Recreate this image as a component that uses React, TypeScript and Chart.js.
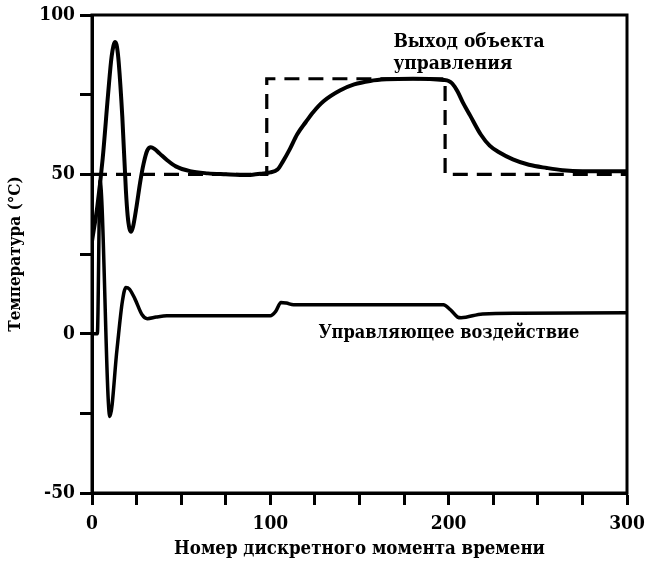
import React, { useEffect, useRef } from "react";
import { Chart, registerables } from "chart.js";

Chart.register(...registerables);

// ---- Data ----
const setpointT = [0, 98, 98, 198, 198, 300];
const setpointV = [50, 50, 80, 80, 50, 50];

const outputT = [0, 3, 6, 9, 11, 13, 14, 15, 17, 19, 20, 21, 22, 23, 25, 27, 29, 31, 33, 35, 38, 42, 47, 55, 65, 75, 83, 90, 96, 100, 104, 107, 111, 115, 120, 124, 130, 139, 147, 156, 165, 180, 197, 200, 202, 205, 208, 212, 218, 223, 228, 236, 245, 255, 264, 275, 300];
const outputV = [29, 40, 55, 75, 87, 91.5, 90, 85, 68, 45, 37, 33, 32, 33.5, 40, 47.5, 53.5, 57.5, 58.5, 58, 56.5, 54.5, 52.5, 51, 50.3, 50, 49.8, 49.9, 50.3, 50.6, 51.5, 54, 58, 62.5, 66.5, 69.5, 73, 76.3, 78.2, 79.3, 79.8, 80, 79.6, 79.3, 78.5, 76, 72.5, 68.5, 62.5, 59, 57, 54.7, 53, 52, 51.3, 51, 51];

const controlT = [0, 3, 4.5, 10, 14, 17, 19, 21, 24, 28, 31, 36, 42, 60, 100, 103, 106, 109, 113, 150, 197, 201, 205, 207, 219, 240, 300];
const controlV = [0, 0, 48, -26, -5, 10, 14.5, 14, 11, 6, 4.7, 5.2, 5.6, 5.6, 5.6, 7, 9.8, 9.6, 9.1, 9.1, 9.1, 7.5, 5.2, 5, 6.2, 6.4, 6.6];

const xLabelValues = [0, 100, 200, 300];
const yLabelValues = [100, 50, 0, -50];

const annotationTexts = ["Выход объекта", "управления", "Управляющее воздействие"];
const annotationT = [169, 169, 127];
const annotationV = [91.5, 84.5, 0];
const annotationSizes = [19, 19, 18];

const xTitle = "Номер дискретного момента времени";
const yTitle = "Температура (°С)";

const FONT = "'DejaVu Serif Condensed', 'DejaVu Serif', serif";

const toPoints = (xs: number[], ys: number[]) => xs.map((x, i) => ({ x, y: ys[i] }));

const framePlugin = {
  id: "frameAndNotes",
  afterDatasetsDraw(chart: any) {
    const { ctx, chartArea, scales } = chart;
    ctx.save();
    ctx.strokeStyle = "#000";
    ctx.lineWidth = 3;
    ctx.strokeRect(chartArea.left, chartArea.top, chartArea.right - chartArea.left, chartArea.bottom - chartArea.top);
    ctx.fillStyle = "#000";
    ctx.textAlign = "left";
    ctx.textBaseline = "middle";
    annotationTexts.forEach((t, i) => {
      ctx.font = `bold ${annotationSizes[i]}px ${FONT}`;
      ctx.fillText(t, scales.x.getPixelForValue(annotationT[i]), scales.y.getPixelForValue(annotationV[i]));
    });
    ctx.restore();
  },
};

export default function App() {
  const ref = useRef<HTMLCanvasElement | null>(null);
  useEffect(() => {
    document.body.style.margin = "0";
    const canvas = ref.current!;
    const chart = new Chart(canvas, {
      type: "line",
      data: {
        datasets: [
          {
            data: toPoints(setpointT, setpointV),
            borderColor: "#000",
            borderWidth: 3.2,
            borderDash: [15, 9],
            pointRadius: 0,
            tension: 0,
          },
          {
            data: toPoints(outputT, outputV),
            borderColor: "#000",
            borderWidth: 4,
            pointRadius: 0,
            cubicInterpolationMode: "monotone",
          },
          {
            data: toPoints(controlT, controlV),
            borderColor: "#000",
            borderWidth: 3.5,
            pointRadius: 0,
            cubicInterpolationMode: "monotone",
          },
        ],
      },
      options: {
        animation: false,
        responsive: false,
        devicePixelRatio: 1,
        layout: { padding: { top: 15, right: 20, left: 0, bottom: 0 } },
        plugins: { legend: { display: false }, tooltip: { enabled: false } },
        scales: {
          x: {
            type: "linear",
            min: 0,
            max: 300,
            afterFit: (s: any) => {
              s.height = 72;
              s.paddingLeft = 0;
              s.paddingRight = 0;
            },
            ticks: {
              stepSize: 25,
              autoSkip: false,
              maxRotation: 0,
              color: "#000",
              padding: 8,
              font: { family: FONT, size: 19, weight: "bold" },
              callback: (v: any) => (xLabelValues.includes(Number(v)) ? String(v) : ""),
            },
            grid: {
              display: true,
              drawOnChartArea: false,
              drawTicks: true,
              tickLength: 12,
              tickWidth: 3,
              tickColor: "#000",
            },
            border: { display: true, color: "#000", width: 3 },
            title: {
              display: true,
              text: xTitle,
              color: "#000",
              font: { family: FONT, size: 18.5, weight: "bold" },
              padding: { top: 0, bottom: 5 },
            },
          },
          y: {
            type: "linear",
            min: -50,
            max: 100,
            afterFit: (s: any) => {
              s.width = 92;
              s.paddingTop = 0;
              s.paddingBottom = 0;
            },
            ticks: {
              stepSize: 25,
              autoSkip: false,
              color: "#000",
              padding: 5,
              font: { family: FONT, size: 19, weight: "bold" },
              callback: (v: any) => (yLabelValues.includes(Number(v)) ? String(v) : ""),
            },
            grid: {
              display: true,
              drawOnChartArea: false,
              drawTicks: true,
              tickLength: 12,
              tickWidth: 3,
              tickColor: "#000",
            },
            border: { display: true, color: "#000", width: 3 },
            title: {
              display: true,
              text: yTitle,
              color: "#000",
              font: { family: FONT, size: 17, weight: "bold" },
              padding: { top: 5, bottom: 0 },
            },
          },
        },
      },
      plugins: [framePlugin],
    });
    return () => chart.destroy();
  }, []);
  return <canvas ref={ref} width={647} height={565} style={{ display: "block", width: 647, height: 565 }} />;
}
